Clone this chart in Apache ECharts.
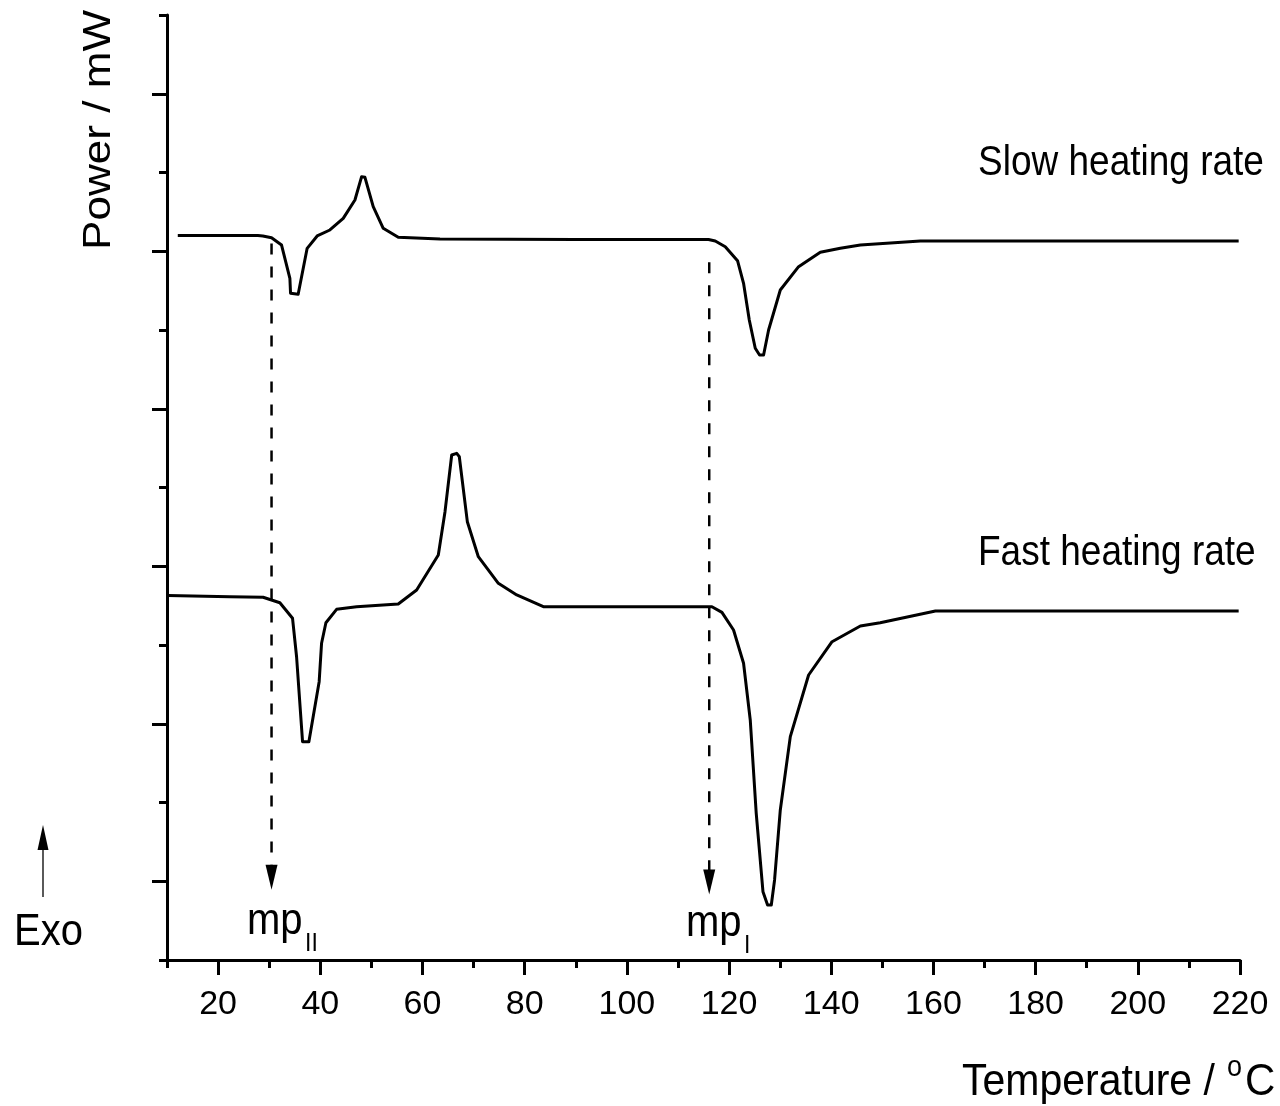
<!DOCTYPE html>
<html>
<head>
<meta charset="utf-8">
<script src="https://cdn.jsdelivr.net/npm/echarts@6/dist/echarts.min.js"></script>
<style>
html,body{margin:0;padding:0;background:#fff;}
#c{width:1280px;height:1106px;}
</style>
</head>
<body>
<div id="c"></div>
<script>
// ---- data (temperature in °C, power in arbitrary offset units) ----
const slowT = [12.11, 27.78, 28.76, 30.46, 32.42, 34.05, 34.18, 35.67, 37.43, 39.39, 41.88, 44.49, 46.78, 48.09, 48.74, 50.36, 52.32, 55.26, 63.43, 89.87, 115.98, 117.30, 119.26, 121.66, 122.84, 123.96, 125.13, 125.97, 126.76, 127.74, 128.60, 130.03, 133.61, 137.86, 141.78, 145.70, 157.45, 219.74];
const slowP = [9.200, 9.200, 9.194, 9.172, 9.079, 8.657, 8.466, 8.453, 9.037, 9.194, 9.270, 9.418, 9.651, 9.947, 9.939, 9.566, 9.291, 9.177, 9.156, 9.149, 9.149, 9.130, 9.058, 8.880, 8.593, 8.127, 7.768, 7.683, 7.683, 8.000, 8.190, 8.508, 8.804, 8.987, 9.037, 9.079, 9.130, 9.130];
const fastT = [10.15, 22.29, 28.81, 32.09, 34.57, 35.36, 36.53, 37.77, 39.78, 40.25, 41.10, 43.19, 47.11, 55.26, 58.86, 63.10, 64.41, 65.72, 66.70, 67.21, 68.78, 70.93, 74.85, 78.45, 83.66, 94.77, 116.65, 118.61, 120.88, 122.84, 124.15, 125.32, 126.64, 127.54, 128.27, 128.91, 130.03, 131.99, 135.57, 140.16, 145.70, 149.58, 160.39, 219.74];
const fastP = [4.629, 4.613, 4.606, 4.537, 4.339, 3.851, 2.772, 2.772, 3.534, 4.022, 4.283, 4.453, 4.486, 4.521, 4.698, 5.143, 5.693, 6.413, 6.434, 6.391, 5.566, 5.121, 4.783, 4.635, 4.486, 4.486, 4.486, 4.415, 4.190, 3.768, 3.048, 1.863, 0.867, 0.698, 0.698, 1.016, 1.905, 2.836, 3.619, 4.042, 4.241, 4.283, 4.432, 4.432];
// melting-point marker arrows
const arrowX = [30.46, 116.12];
const arrowTop = [9.10, 8.86];
const arrowBase = [1.21, 1.14];
const arrowTip = [0.89, 0.84];
// axis ticks
const xMajorTicks = [20, 40, 60, 80, 100, 120, 140, 160, 180, 200, 220];
const yMajorTicks = [1, 3, 5, 7, 9, 11];

const FONT = "'Liberation Sans', Arial, sans-serif";
const chart = echarts.init(document.getElementById('c'), null, {renderer: 'canvas'});

const zip = (a, b) => a.map((v, i) => [v, b[i]]);

const series = [
  {type: 'line', data: zip(slowT, slowP), showSymbol: false, silent: true,
   lineStyle: {color: '#000', width: 3, join: 'round'}},
  {type: 'line', data: zip(fastT, fastP), showSymbol: false, silent: true,
   lineStyle: {color: '#000', width: 3, join: 'round'}}
];
arrowX.forEach((x, i) => {
  series.push({type: 'line', data: [[x, arrowTop[i]], [x, arrowBase[i]]], showSymbol: false, silent: true,
    lineStyle: {color: '#000', width: 2.5, opacity: 1, type: [11, 12]}});
  series.push({type: 'scatter', data: [[x, (arrowBase[i] + arrowTip[i]) / 2]], symbol: 'triangle',
    symbolRotate: 180, symbolSize: [12, 25], silent: true, itemStyle: {color: '#000', opacity: 1}});
});

const txt = (text, x, y, size, extra) => Object.assign({
  type: 'text', x: x, y: y, silent: true,
  style: Object.assign({text: text, fontSize: size, fontFamily: FONT, fill: '#000',
    align: 'left', textAlign: 'left', verticalAlign: 'middle', textVerticalAlign: 'middle'}, (extra && extra.style) || {})
}, extra && extra.el || {});

chart.setOption({
  animation: false,
  backgroundColor: '#fff',
  grid: {left: 167, right: 40, top: 15, bottom: 146, containLabel: false},
  xAxis: [
    {type: 'value', min: 10, max: 220, interval: 10, position: 'bottom',
     axisLine: {show: true, onZero: false, lineStyle: {color: '#000', width: 3}},
     axisTick: {show: true, length: 8, lineStyle: {color: '#000', width: 3}},
     axisLabel: {show: false}, splitLine: {show: false}},
    {type: 'value', min: 10, max: 220, interval: 10, position: 'bottom',
     axisLine: {show: false, onZero: false},
     axisTick: {show: true, length: 15, customValues: xMajorTicks, lineStyle: {color: '#000', width: 3}},
     axisLabel: {show: true, customValues: xMajorTicks, fontSize: 34, fontFamily: FONT, color: '#000', margin: 28},
     splitLine: {show: false}}
  ],
  yAxis: [
    {type: 'value', min: 0, max: 12, interval: 1, position: 'left',
     axisLine: {show: true, onZero: false, lineStyle: {color: '#000', width: 3}},
     axisTick: {show: true, length: 8, lineStyle: {color: '#000', width: 3}},
     axisLabel: {show: false}, splitLine: {show: false}},
    {type: 'value', min: 0, max: 12, interval: 1, position: 'left', offset: 0,
     axisLine: {show: false, onZero: false},
     axisTick: {show: true, length: 15, customValues: yMajorTicks, lineStyle: {color: '#000', width: 3}},
     axisLabel: {show: false}, splitLine: {show: false}}
  ],
  series: series,
  graphic: [
    txt('Power / mW', 100, 130, 38, {el: {rotation: Math.PI / 2, scaleX: 1.16},
      style: {align: 'center', textAlign: 'center'}}),
    txt('Temperature /', 962, 1083, 41, {el: {scaleY: 1.09}}),
    txt('o', 1227, 1068, 27, {el: {scaleY: 1.1}}),
    txt('C', 1245, 1083, 42, {el: {scaleY: 1.07}}),
    txt('Slow heating rate', 978, 163, 37, {el: {scaleY: 1.13}}),
    txt('Fast heating rate', 978, 553, 37, {el: {scaleY: 1.13}}),
    txt('mp', 247, 922, 40, {el: {scaleY: 1.12}}),
    txt('II', 305, 944, 23, {el: {scaleY: 1.12}}),
    txt('mp', 686, 924, 40, {el: {scaleY: 1.12}}),
    txt('I', 744, 946, 23, {el: {scaleY: 1.12}}),
    txt('Exo', 14, 933, 40, {el: {scaleY: 1.1}}),
    {type: 'line', silent: true, shape: {x1: 43, y1: 897, x2: 43, y2: 848}, style: {stroke: '#000', lineWidth: 1.3}},
    {type: 'polygon', silent: true, shape: {points: [[43, 825], [37.5, 850], [48.5, 850]]}, style: {fill: '#000'}}
  ]
});
</script>
</body>
</html>
